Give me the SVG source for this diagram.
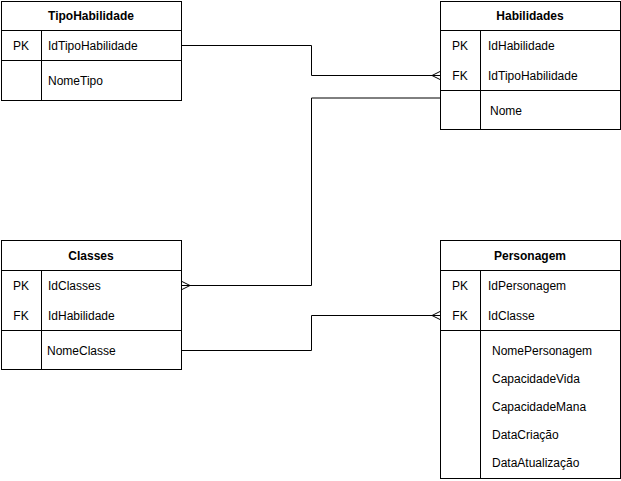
<svg xmlns="http://www.w3.org/2000/svg" width="621" height="481" viewBox="0 0 621 481">
<style>
.box{fill:#fff;stroke:#000;stroke-width:1}
.ln{stroke:#000;stroke-width:1;fill:none}
.t{font-family:"Liberation Sans",Arial,sans-serif;font-size:12px;fill:#000}
.h{font-weight:bold;text-anchor:middle}
.k{text-anchor:middle}
.c{stroke:#000;stroke-width:1;fill:none}
</style>
<rect width="621" height="481" fill="#fff"/>
<g id="connectors">
<path class="c" d="M181.5 45.5H311.5V75.5H441"/>
<path class="c" d="M432 75.5L441 71M432 75.5L441 80"/>
<path class="c" d="M441 98H311.5V285.5H181"/>
<path class="c" d="M190 285.5L181 281M190 285.5L181 290"/>
<path class="c" d="M181 350.5H311.5V315.5H441"/>
<path class="c" d="M432 315.5L441 311M432 315.5L441 320"/>
</g>
<g id="TipoHabilidade">
<rect class="box" x="1.5" y="1.5" width="180" height="99"/>
<path class="ln" d="M1.5 30.5H181.5M1.5 60.5H181.5M41.5 30.5V100.5"/>
<text class="t h" x="91" y="20">TipoHabilidade</text>
<text class="t k" x="21" y="50">PK</text>
<text class="t" x="48" y="50">IdTipoHabilidade</text>
<text class="t" x="48" y="85">NomeTipo</text>
</g>
<g id="Habilidades">
<rect class="box" x="440.5" y="1.5" width="180" height="128"/>
<path class="ln" d="M440.5 30.5H620.5M440.5 90.5H620.5M480.5 30.5V129.5"/>
<text class="t h" x="530" y="20">Habilidades</text>
<text class="t k" x="460" y="50">PK</text>
<text class="t" x="488" y="50">IdHabilidade</text>
<text class="t k" x="460" y="80">FK</text>
<text class="t" x="488" y="80">IdTipoHabilidade</text>
<text class="t" x="490" y="115">Nome</text>
</g>
<g id="Classes">
<rect class="box" x="1.5" y="240.5" width="180" height="129"/>
<path class="ln" d="M1.5 270.5H181.5M1.5 330.5H181.5M41.5 270.5V369.5"/>
<text class="t h" x="91" y="260">Classes</text>
<text class="t k" x="21" y="290">PK</text>
<text class="t" x="48" y="290">IdClasses</text>
<text class="t k" x="21" y="320">FK</text>
<text class="t" x="48" y="320">IdHabilidade</text>
<text class="t" x="47" y="355">NomeClasse</text>
</g>
<g id="Personagem">
<rect class="box" x="440.5" y="240.5" width="180" height="238"/>
<path class="ln" d="M440.5 270.5H620.5M440.5 330.5H620.5M480.5 270.5V478.5"/>
<text class="t h" x="530" y="260">Personagem</text>
<text class="t k" x="460" y="290">PK</text>
<text class="t" x="488" y="290">IdPersonagem</text>
<text class="t k" x="460" y="320">FK</text>
<text class="t" x="488" y="320">IdClasse</text>
<text class="t" x="492" y="355">NomePersonagem</text>
<text class="t" x="492" y="383">CapacidadeVida</text>
<text class="t" x="492" y="411">CapacidadeMana</text>
<text class="t" x="492" y="439">DataCriação</text>
<text class="t" x="492" y="467">DataAtualização</text>
</g>
</svg>
